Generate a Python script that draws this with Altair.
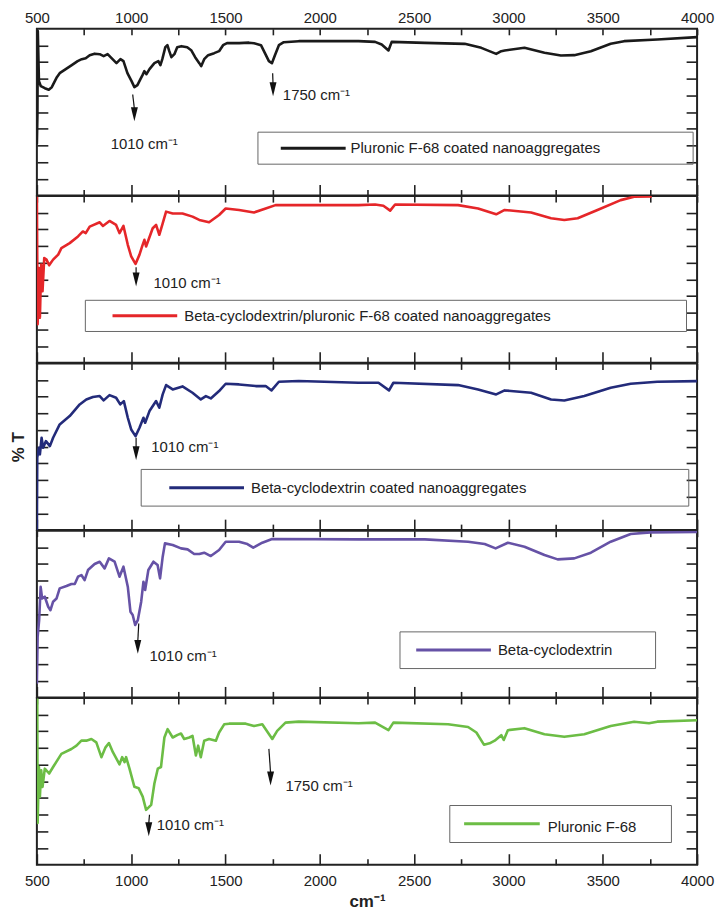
import altair as alt
import pandas as pd

X_DOMAIN = [500, 4000]
Y_DOMAIN = [0, 100]
MAJOR_TICKS = [500, 1000, 1500, 2000, 2500, 3000, 3500, 4000]
MINOR_TICKS = [750, 1250, 1750, 2250, 2750, 3250, 3750]
ALL_TICKS = sorted(MAJOR_TICKS + MINOR_TICKS)
Y_TICKS = [10, 20, 30, 40, 50, 60, 70, 80, 90]

names = [
    "Pluronic F-68 coated nanoaggregates",
    "Beta-cyclodextrin/pluronic F-68 coated nanoaggregates",
    "Beta-cyclodextrin coated nanoaggregates",
    "Beta-cyclodextrin",
    "Pluronic F-68",
]
colors = ["#1a1a1a", "#e52629", "#232b7a", "#6652a6", "#6cbd45"]

# Panel 1: Pluronic F-68 coated nanoaggregates
wn_1 = [500, 503, 505, 511, 521, 542, 563, 579, 606, 621,
        653, 685, 716, 738, 759, 780, 806, 833, 854, 875,
        896, 922, 943, 959, 980, 1002, 1017, 1033, 1049, 1060,
        1070, 1081, 1097, 1123, 1144, 1155, 1165, 1181, 1192, 1202,
        1213, 1229, 1244, 1266, 1297, 1318, 1339, 1361, 1371, 1387,
        1408, 1440, 1466, 1487, 1508, 1572, 1624, 1651, 1688, 1709,
        1730, 1746, 1762, 1783, 1809, 1888, 2047, 2205, 2293, 2328,
        2364, 2381, 2557, 2768, 2856, 2935, 2962, 2980, 3085, 3191,
        3278, 3349, 3437, 3542, 3613, 3789, 4000]
t_1 = [30.8, 48.8, 98.6, 68.6, 65.6, 64.4, 63.5, 65.0, 71.0, 73.4,
       75.8, 78.2, 80.6, 81.8, 82.4, 84.2, 85.1, 84.8, 83.6, 84.8,
       82.4, 79.4, 81.8, 80.6, 73.4, 68.6, 65.0, 66.2, 69.8, 72.2,
       74.6, 72.8, 75.8, 79.4, 80.6, 78.2, 81.8, 89.0, 90.2, 86.6,
       83.0, 84.8, 89.0, 89.6, 89.0, 87.2, 83.0, 79.4, 77.6, 81.8,
       84.2, 85.4, 86.6, 90.2, 91.4, 91.4, 91.7, 91.4, 90.2, 85.4,
       80.6, 79.4, 84.2, 90.2, 92.0, 92.6, 92.6, 92.6, 92.2, 90.6,
       87.0, 92.2, 91.6, 91.0, 88.6, 85.0, 86.6, 87.0, 88.6, 85.6,
       84.0, 84.2, 86.6, 91.0, 92.6, 93.6, 95.0]

# Panel 2: Beta-cyclodextrin/pluronic F-68 coated nanoaggregates
wn_2 = [500, 504, 511, 516, 523, 530, 539, 551, 565, 586,
        613, 630, 674, 718, 744, 759, 780, 833, 850, 885,
        920, 938, 959, 982, 1000, 1023, 1044, 1058, 1070, 1079,
        1114, 1132, 1149, 1167, 1185, 1220, 1272, 1325, 1361, 1413,
        1466, 1501, 1572, 1651, 1713, 1765, 2205, 2293, 2337, 2373,
        2399, 2733, 2839, 2935, 2980, 3120, 3226, 3296, 3367, 3472,
        3595, 3666, 3760]
t_2 = [99.6, 23.2, 56.9, 27.1, 58.9, 43.0, 62.9, 61.9, 58.5, 61.9,
       64.9, 68.8, 71.8, 75.8, 78.8, 77.8, 81.7, 84.3, 82.1, 85.1,
       82.7, 77.8, 82.1, 70.8, 63.9, 59.3, 64.9, 69.8, 73.8, 69.8,
       80.7, 82.7, 76.8, 83.7, 90.7, 89.6, 89.6, 87.7, 85.7, 84.3,
       88.7, 92.6, 91.7, 90.2, 92.6, 94.6, 94.6, 95.0, 94.2, 91.3,
       95.0, 94.6, 92.6, 89.1, 91.7, 90.2, 86.7, 85.7, 86.7, 91.7,
       97.6, 99.6, 99.8]

# Panel 3: Beta-cyclodextrin coated nanoaggregates
wn_3 = [500, 502, 511, 516, 525, 533, 548, 569, 586, 621,
        674, 727, 762, 797, 833, 854, 885, 920, 942, 961,
        982, 1000, 1023, 1044, 1065, 1074, 1097, 1132, 1149, 1167,
        1185, 1220, 1272, 1325, 1369, 1396, 1422, 1466, 1501, 1572,
        1660, 1713, 1744, 1783, 1888, 2205, 2311, 2367, 2390, 2733,
        2839, 2935, 2980, 3120, 3226, 3296, 3402, 3542, 3648, 3789,
        4000]
t_3 = [0.0, 43.6, 49.4, 45.4, 55.4, 49.4, 53.4, 50.4, 55.4, 63.4,
       68.4, 75.4, 78.4, 79.8, 80.4, 77.8, 81.0, 79.4, 75.4, 77.4,
       67.4, 60.4, 56.4, 61.4, 67.4, 64.4, 71.4, 77.4, 73.4, 81.4,
       87.0, 84.4, 86.2, 82.4, 78.4, 80.4, 79.0, 83.4, 87.8, 87.4,
       86.4, 86.4, 83.8, 89.0, 89.4, 88.4, 88.4, 83.8, 88.4, 87.0,
       84.4, 81.4, 83.8, 82.4, 78.4, 77.8, 80.4, 85.4, 87.8, 89.0,
       89.4]

# Panel 4: Beta-cyclodextrin
wn_4 = [500, 504, 512, 520, 528, 542, 560, 572, 586, 604,
        621, 657, 683, 701, 718, 736, 753, 771, 806, 833,
        859, 882, 912, 938, 959, 982, 996, 1008, 1021, 1035,
        1053, 1065, 1074, 1091, 1118, 1140, 1153, 1167, 1179, 1220,
        1264, 1299, 1334, 1361, 1387, 1422, 1466, 1501, 1572, 1616,
        1647, 1695, 1747, 2205, 2557, 2786, 2874, 2932, 2997, 3085,
        3191, 3261, 3349, 3437, 3542, 3648, 3753, 4000]
t_4 = [8.2, 36.3, 46.3, 66.3, 59.3, 60.4, 54.4, 52.3, 57.4, 59.3,
       65.4, 66.8, 68.0, 68.0, 72.4, 73.4, 70.4, 76.4, 80.0, 81.4,
       77.4, 83.4, 81.4, 72.4, 78.4, 66.4, 51.4, 49.4, 43.4, 46.3,
       57.4, 69.4, 64.4, 76.4, 81.4, 79.4, 71.4, 84.4, 92.4, 91.4,
       89.4, 88.8, 86.0, 86.0, 86.8, 84.8, 88.4, 93.4, 93.4, 92.0,
       89.8, 92.8, 95.0, 94.8, 94.8, 93.4, 92.0, 89.4, 92.8, 90.4,
       85.4, 82.8, 83.4, 86.8, 93.4, 98.0, 99.0, 99.2]

# Panel 5: Pluronic F-68
wn_5 = [500, 502, 504, 511, 516, 523, 530, 542, 565, 586,
        630, 683, 710, 736, 762, 789, 815, 842, 864, 882,
        903, 938, 952, 965, 973, 991, 1017, 1040, 1061, 1079,
        1106, 1123, 1141, 1158, 1176, 1193, 1220, 1246, 1264, 1281,
        1308, 1325, 1343, 1355, 1369, 1387, 1413, 1449, 1466, 1493,
        1519, 1607, 1651, 1695, 1748, 1774, 1818, 1888, 2205, 2293,
        2364, 2390, 2680, 2786, 2830, 2870, 2900, 2927, 2962, 2975,
        2997, 3085, 3191, 3296, 3402, 3542, 3666, 3745, 3789, 4000]
t_5 = [99.5, 99.1, 25.1, 58.6, 40.8, 56.6, 46.7, 57.6, 54.7, 58.6,
       66.5, 69.4, 71.4, 74.4, 74.4, 75.4, 73.4, 64.5, 70.4, 73.0,
       67.5, 60.2, 64.5, 61.5, 64.5, 57.6, 46.7, 45.8, 40.8, 32.9,
       35.9, 48.7, 57.6, 58.6, 76.3, 81.3, 76.3, 77.9, 78.7, 75.4,
       76.3, 77.3, 65.5, 71.4, 64.5, 74.4, 75.4, 74.4, 79.3, 84.2,
       84.6, 84.6, 83.2, 84.2, 75.4, 80.3, 85.2, 85.8, 84.8, 85.2,
       80.7, 85.2, 84.2, 82.6, 79.3, 72.0, 72.8, 74.4, 77.7, 74.8,
       80.7, 81.9, 78.3, 76.7, 78.3, 83.2, 85.8, 84.8, 85.8, 86.6]

wavenumbers = [wn_1, wn_2, wn_3, wn_4, wn_5]
transmittance = [t_1, t_2, t_3, t_4, t_5]

# Annotation arrows: (x start, %T start, x end, %T end, %T of arrow head)
arrows = [
    [(1008, 60.6, 1017, 52.0, 48.8), (1750, 73.4, 1752, 66.5, 63.8)],
    [(1026, 57.3, 1026, 52.5, 50.0)],
    [(1026, 55.4, 1026, 49.0, 46.1)],
    [(1040, 44.3, 1035, 33.5, 30.3)],
    [(1097, 30.0, 1093, 24.5, 21.3), (1730, 69.5, 1739, 55.0, 51.7)],
]
notes = [
    [(891, 30.8, "1010 cm⁻¹"), (1804, 60.0, "1750 cm⁻¹")],
    [(1118, 48.0, "1010 cm⁻¹")],
    [(1106, 49.8, "1010 cm⁻¹")],
    [(1097, 24.7, "1010 cm⁻¹")],
    [(1135, 23.5, "1010 cm⁻¹"), (1818, 47.2, "1750 cm⁻¹")],
]
# Legend boxes: box x1, x2, y1, y2 ; line x1, x2, y ; text x, y
legend_box = [
    (1672, 3979, 38.0, 18.8, 1793, 2137, 28.4, 2163, 28.4),
    (757, 3944, 37.5, 18.8, 901, 1244, 28.2, 1281, 28.2),
    (1053, 3956, 36.4, 14.4, 1202, 1598, 25.4, 1635, 25.4),
    (2425, 3780, 39.3, 17.3, 2511, 2907, 28.5, 2944, 28.5),
    (2689, 3864, 35.5, 13.3, 2765, 3166, 24.5, 3208, 22.5),
]

FONT = "Liberation Sans"
TEXT_COLOR = "#222222"
TRI = "M-0.5,-1L0.5,-1L0,1Z"


def make_panel(i):
    first = i == 0
    last = i == 4
    xs = alt.Scale(domain=X_DOMAIN, nice=False, zero=False)
    ys = alt.Scale(domain=Y_DOMAIN, nice=False, zero=False)
    col = colors[i]

    ax_bottom_major = alt.Axis(orient="bottom", values=MAJOR_TICKS, tickSize=11, offset=-11,
                               labels=last, labelFlush=False, labelPadding=9, format="d",
                               title="cm⁻¹" if last else None, titlePadding=5)
    ax_bottom_minor = alt.Axis(orient="bottom", values=MINOR_TICKS, tickSize=6, offset=-6,
                               labels=False, title=None)
    ax_top = alt.Axis(orient="top", values=ALL_TICKS, tickSize=6, offset=-6,
                      labels=first, labelFlush=False, labelPadding=3, format="d",
                      labelExpr="datum.value % 500 == 0 ? datum.label : ''", title=None)
    ax_left = alt.Axis(orient="left", values=Y_TICKS, tickSize=11, offset=-11, labels=False,
                       title="% T" if i == 2 else None, titlePadding=9)
    ax_right = alt.Axis(orient="right", values=Y_TICKS, tickSize=11, offset=-11, labels=False,
                        title=None)

    curve = pd.DataFrame({"wn": wavenumbers[i], "T": transmittance[i]})
    arr = pd.DataFrame(arrows[i], columns=["x", "y", "x2", "y2", "yh"])
    nts = pd.DataFrame(notes[i], columns=["x", "y", "label"])
    b = legend_box[i]
    leg = pd.DataFrame([{"bx1": b[0], "bx2": b[1], "by1": b[2], "by2": b[3],
                         "lx1": b[4], "lx2": b[5], "ly": b[6],
                         "tx": b[7], "ty": b[8], "name": names[i]}])

    line = alt.Chart(curve).mark_line(color=col, strokeWidth=2.6, clip=True,
                                      strokeJoin="round").encode(
        x=alt.X("wn:Q", scale=xs, axis=ax_bottom_major),
        y=alt.Y("T:Q", scale=ys, axis=ax_left),
        order=alt.Order("wn:Q"),
    )
    rule = alt.Chart(arr).mark_rule(color="#111111", strokeWidth=1.2).encode(
        x=alt.X("x:Q", scale=xs, axis=ax_bottom_minor),
        y=alt.Y("y:Q", scale=ys, axis=ax_right),
        x2="x2:Q",
        y2="y2:Q",
    )
    head = alt.Chart(arr).mark_point(shape=TRI, size=196, filled=True, color="#111111",
                                     opacity=1, strokeWidth=0).encode(
        x=alt.X("x2:Q", scale=xs, axis=ax_top),
        y=alt.Y("yh:Q", scale=ys, axis=None),
    )
    note_text = alt.Chart(nts).mark_text(align="left", baseline="middle", fontSize=15,
                                         font=FONT, color=TEXT_COLOR).encode(
        x=alt.X("x:Q", scale=xs, axis=None),
        y=alt.Y("y:Q", scale=ys, axis=None),
        text="label:N",
    )
    box = alt.Chart(leg).mark_rect(fillOpacity=0, stroke="#666666", strokeWidth=1).encode(
        x=alt.X("bx1:Q", scale=xs, axis=None),
        x2="bx2:Q",
        y=alt.Y("by1:Q", scale=ys, axis=None),
        y2="by2:Q",
    )
    leg_line = alt.Chart(leg).mark_rule(color=col, strokeWidth=3).encode(
        x=alt.X("lx1:Q", scale=xs, axis=None),
        x2="lx2:Q",
        y=alt.Y("ly:Q", scale=ys, axis=None),
    )
    leg_text = alt.Chart(leg).mark_text(align="left", baseline="middle", fontSize=15,
                                        font=FONT, color=TEXT_COLOR).encode(
        x=alt.X("tx:Q", scale=xs, axis=None),
        y=alt.Y("ty:Q", scale=ys, axis=None),
        text="name:N",
    )
    return alt.layer(line, rule, head, note_text, box, leg_line, leg_text).resolve_axis(
        x="independent", y="independent"
    ).properties(width=663, height=167.4)


chart = alt.vconcat(*[make_panel(i) for i in range(5)], spacing=0, bounds="flush").properties(
    padding={"left": 0, "top": 0, "right": 0, "bottom": 0}
).configure_view(
    stroke="#222222", strokeWidth=2
).configure_axis(
    domain=False, grid=False, tickColor="#222222", tickWidth=1.6,
    labelFont=FONT, labelFontSize=15, labelColor=TEXT_COLOR,
    titleFont=FONT, titleFontSize=17, titleFontWeight="bold", titleColor=TEXT_COLOR,
)

chart.save("out.html", embed_options={"renderer": "svg", "actions": False})
